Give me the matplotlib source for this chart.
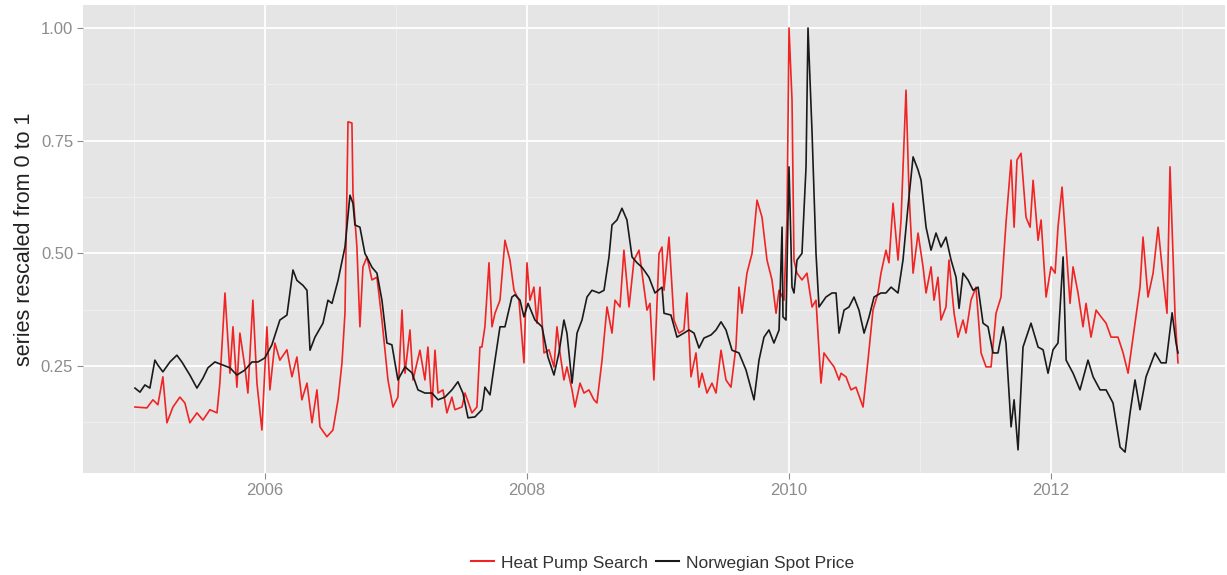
import numpy as np
import matplotlib.pyplot as plt
from matplotlib.lines import Line2D

plt.rcParams['font.family'] = ['Liberation Sans', 'DejaVu Sans']

# Norwegian spot price, rescaled (decimal year, value)
spot_t = [2005.008, 2005.046, 2005.084, 2005.122, 2005.160, 2005.183, 2005.221, 2005.275, 2005.328, 2005.366,
          2005.427, 2005.481, 2005.527, 2005.565, 2005.618, 2005.679, 2005.733, 2005.786, 2005.847, 2005.901,
          2005.947, 2006.000, 2006.053, 2006.114, 2006.168, 2006.214, 2006.244, 2006.290, 2006.321, 2006.344,
          2006.382, 2006.443, 2006.481, 2006.512, 2006.558, 2006.611, 2006.649, 2006.672, 2006.687, 2006.725,
          2006.763, 2006.817, 2006.855, 2006.893, 2006.931, 2006.969, 2007.015, 2007.069, 2007.122, 2007.168,
          2007.221, 2007.275, 2007.321, 2007.374, 2007.427, 2007.473, 2007.511, 2007.550, 2007.603, 2007.656,
          2007.679, 2007.718, 2007.756, 2007.794, 2007.832, 2007.885, 2007.908, 2007.947, 2007.977, 2008.008,
          2008.061, 2008.115, 2008.160, 2008.206, 2008.244, 2008.282, 2008.305, 2008.344, 2008.382, 2008.420,
          2008.458, 2008.496, 2008.550, 2008.588, 2008.626, 2008.649, 2008.687, 2008.725, 2008.763, 2008.802,
          2008.840, 2008.878, 2008.931, 2008.977, 2009.031, 2009.046, 2009.099, 2009.145, 2009.198, 2009.237,
          2009.275, 2009.313, 2009.351, 2009.405, 2009.443, 2009.481, 2009.519, 2009.565, 2009.618, 2009.672,
          2009.733, 2009.771, 2009.809, 2009.847, 2009.885, 2009.924, 2009.947, 2009.954, 2009.977, 2010.000,
          2010.023, 2010.038, 2010.061, 2010.099, 2010.130, 2010.145, 2010.176, 2010.206, 2010.229, 2010.282,
          2010.328, 2010.359, 2010.382, 2010.420, 2010.458, 2010.496, 2010.534, 2010.573, 2010.611, 2010.649,
          2010.702, 2010.740, 2010.779, 2010.832, 2010.870, 2010.908, 2010.947, 2010.985, 2011.008, 2011.046,
          2011.084, 2011.122, 2011.160, 2011.198, 2011.237, 2011.275, 2011.298, 2011.328, 2011.366, 2011.405,
          2011.443, 2011.481, 2011.519, 2011.557, 2011.595, 2011.634, 2011.656, 2011.679, 2011.695, 2011.718,
          2011.748, 2011.786, 2011.847, 2011.901, 2011.939, 2011.977, 2012.015, 2012.053, 2012.092, 2012.115,
          2012.168, 2012.221, 2012.282, 2012.321, 2012.374, 2012.420, 2012.473, 2012.527, 2012.565, 2012.603,
          2012.641, 2012.679, 2012.725, 2012.794, 2012.840, 2012.878, 2012.924, 2012.954, 2012.969]
spot_v = [0.201, 0.192, 0.208, 0.201, 0.263, 0.252, 0.237, 0.259, 0.274, 0.259,
          0.230, 0.201, 0.223, 0.246, 0.259, 0.252, 0.246, 0.230, 0.241, 0.259,
          0.259, 0.268, 0.297, 0.352, 0.363, 0.463, 0.440, 0.429, 0.418, 0.285,
          0.314, 0.345, 0.396, 0.389, 0.440, 0.514, 0.629, 0.611, 0.563, 0.558,
          0.500, 0.469, 0.456, 0.396, 0.301, 0.297, 0.219, 0.248, 0.235, 0.197,
          0.190, 0.190, 0.175, 0.181, 0.197, 0.215, 0.190, 0.135, 0.137, 0.153,
          0.203, 0.186, 0.263, 0.337, 0.337, 0.403, 0.408, 0.396, 0.359, 0.389,
          0.352, 0.337, 0.270, 0.230, 0.279, 0.352, 0.323, 0.212, 0.323, 0.352,
          0.403, 0.418, 0.412, 0.418, 0.492, 0.563, 0.574, 0.600, 0.574, 0.492,
          0.479, 0.469, 0.447, 0.412, 0.425, 0.367, 0.363, 0.314, 0.323, 0.330,
          0.323, 0.290, 0.312, 0.319, 0.330, 0.348, 0.330, 0.285, 0.279, 0.241,
          0.175, 0.263, 0.314, 0.330, 0.301, 0.330, 0.558, 0.359, 0.352, 0.692,
          0.425, 0.412, 0.485, 0.500, 0.692, 1.000, 0.767, 0.500, 0.381, 0.403,
          0.412, 0.412, 0.323, 0.374, 0.381, 0.403, 0.374, 0.323, 0.359, 0.403,
          0.412, 0.412, 0.425, 0.412, 0.485, 0.603, 0.714, 0.685, 0.662, 0.558,
          0.507, 0.545, 0.514, 0.536, 0.485, 0.447, 0.378, 0.456, 0.441, 0.418,
          0.425, 0.345, 0.337, 0.279, 0.279, 0.337, 0.301, 0.190, 0.115, 0.175,
          0.064, 0.292, 0.345, 0.292, 0.286, 0.234, 0.286, 0.301, 0.492, 0.263,
          0.234, 0.197, 0.263, 0.226, 0.197, 0.197, 0.168, 0.070, 0.059, 0.146,
          0.219, 0.153, 0.226, 0.279, 0.257, 0.257, 0.368, 0.301, 0.279]

# Heat pump search volume, rescaled
search_t = [2005.008, 2005.099, 2005.145, 2005.183, 2005.221, 2005.252, 2005.298, 2005.351, 2005.389, 2005.427,
            2005.481, 2005.527, 2005.580, 2005.634, 2005.656, 2005.695, 2005.733, 2005.756, 2005.786, 2005.809,
            2005.847, 2005.870, 2005.908, 2005.939, 2005.977, 2006.015, 2006.038, 2006.076, 2006.114, 2006.168,
            2006.206, 2006.244, 2006.282, 2006.321, 2006.359, 2006.397, 2006.420, 2006.473, 2006.519, 2006.558,
            2006.588, 2006.611, 2006.634, 2006.664, 2006.672, 2006.702, 2006.725, 2006.748, 2006.779, 2006.817,
            2006.855, 2006.893, 2006.916, 2006.939, 2006.977, 2007.015, 2007.046, 2007.069, 2007.107, 2007.130,
            2007.183, 2007.221, 2007.244, 2007.275, 2007.298, 2007.321, 2007.359, 2007.389, 2007.427, 2007.450,
            2007.504, 2007.527, 2007.580, 2007.618, 2007.641, 2007.656, 2007.679, 2007.710, 2007.733, 2007.756,
            2007.794, 2007.832, 2007.870, 2007.901, 2007.939, 2007.977, 2008.000, 2008.023, 2008.053, 2008.076,
            2008.099, 2008.130, 2008.168, 2008.206, 2008.229, 2008.252, 2008.282, 2008.305, 2008.344, 2008.366,
            2008.405, 2008.435, 2008.473, 2008.511, 2008.534, 2008.573, 2008.611, 2008.649, 2008.672, 2008.710,
            2008.740, 2008.779, 2008.817, 2008.855, 2008.893, 2008.916, 2008.939, 2008.969, 2009.008, 2009.031,
            2009.046, 2009.084, 2009.122, 2009.160, 2009.198, 2009.221, 2009.252, 2009.290, 2009.313, 2009.336,
            2009.374, 2009.412, 2009.443, 2009.481, 2009.519, 2009.557, 2009.595, 2009.618, 2009.641, 2009.679,
            2009.718, 2009.756, 2009.794, 2009.832, 2009.870, 2009.901, 2009.924, 2009.962, 2009.985, 2010.000,
            2010.023, 2010.038, 2010.061, 2010.099, 2010.137, 2010.176, 2010.206, 2010.244, 2010.267, 2010.305,
            2010.344, 2010.382, 2010.397, 2010.435, 2010.473, 2010.511, 2010.565, 2010.603, 2010.641, 2010.679,
            2010.702, 2010.740, 2010.763, 2010.794, 2010.832, 2010.855, 2010.893, 2010.916, 2010.947, 2010.985,
            2011.023, 2011.046, 2011.084, 2011.107, 2011.137, 2011.160, 2011.198, 2011.221, 2011.260, 2011.290,
            2011.328, 2011.351, 2011.389, 2011.427, 2011.466, 2011.504, 2011.542, 2011.580, 2011.618, 2011.656,
            2011.695, 2011.718, 2011.740, 2011.771, 2011.809, 2011.840, 2011.863, 2011.901, 2011.924, 2011.962,
            2012.000, 2012.031, 2012.053, 2012.084, 2012.115, 2012.145, 2012.168, 2012.206, 2012.244, 2012.267,
            2012.305, 2012.344, 2012.382, 2012.420, 2012.458, 2012.511, 2012.550, 2012.588, 2012.626, 2012.679,
            2012.702, 2012.740, 2012.779, 2012.817, 2012.855, 2012.885, 2012.908, 2012.947, 2012.969]
search_v = [0.159, 0.157, 0.175, 0.164, 0.226, 0.124, 0.159, 0.181, 0.168, 0.124,
            0.146, 0.130, 0.153, 0.146, 0.212, 0.412, 0.234, 0.337, 0.203, 0.323,
            0.248, 0.190, 0.396, 0.212, 0.108, 0.337, 0.197, 0.301, 0.263, 0.286,
            0.226, 0.270, 0.175, 0.212, 0.124, 0.197, 0.115, 0.093, 0.108, 0.175,
            0.257, 0.368, 0.792, 0.789, 0.634, 0.514, 0.337, 0.470, 0.492, 0.441,
            0.447, 0.352, 0.285, 0.219, 0.159, 0.181, 0.374, 0.234, 0.330, 0.219,
            0.285, 0.219, 0.292, 0.159, 0.285, 0.190, 0.197, 0.146, 0.181, 0.153,
            0.159, 0.190, 0.146, 0.159, 0.292, 0.292, 0.337, 0.479, 0.337, 0.367,
            0.396, 0.529, 0.485, 0.418, 0.396, 0.257, 0.479, 0.396, 0.425, 0.345,
            0.425, 0.279, 0.286, 0.248, 0.337, 0.279, 0.219, 0.248, 0.197, 0.159,
            0.212, 0.190, 0.197, 0.175, 0.168, 0.263, 0.381, 0.323, 0.396, 0.381,
            0.507, 0.381, 0.485, 0.507, 0.425, 0.374, 0.389, 0.219, 0.500, 0.514,
            0.418, 0.536, 0.352, 0.323, 0.330, 0.412, 0.226, 0.279, 0.203, 0.234,
            0.190, 0.212, 0.190, 0.285, 0.219, 0.203, 0.292, 0.425, 0.367, 0.456,
            0.500, 0.618, 0.580, 0.485, 0.441, 0.367, 0.418, 0.396, 0.580, 1.000,
            0.840, 0.485, 0.456, 0.441, 0.456, 0.381, 0.396, 0.212, 0.279, 0.263,
            0.248, 0.219, 0.234, 0.226, 0.197, 0.203, 0.159, 0.263, 0.374, 0.412,
            0.456, 0.507, 0.479, 0.611, 0.485, 0.574, 0.862, 0.634, 0.456, 0.545,
            0.470, 0.412, 0.470, 0.396, 0.447, 0.352, 0.381, 0.485, 0.367, 0.314,
            0.352, 0.323, 0.396, 0.425, 0.279, 0.248, 0.248, 0.367, 0.403, 0.567,
            0.707, 0.558, 0.707, 0.722, 0.580, 0.558, 0.662, 0.529, 0.574, 0.403,
            0.470, 0.456, 0.558, 0.647, 0.514, 0.389, 0.470, 0.412, 0.337, 0.389,
            0.314, 0.374, 0.359, 0.345, 0.314, 0.314, 0.279, 0.234, 0.314, 0.425,
            0.536, 0.403, 0.456, 0.558, 0.447, 0.367, 0.692, 0.359, 0.257]

year_ticks = [2006, 2008, 2010, 2012]
year_minor = [2005, 2007, 2009, 2011, 2013]
y_ticks = [0.25, 0.50, 0.75, 1.00]
y_minor = [0.125, 0.375, 0.625, 0.875]

fig = plt.figure(figsize=(12.27, 5.75), dpi=100)
ax = fig.add_axes([0.0676, 0.1774, 0.9308, 0.8139])
ax.set_facecolor('#E5E5E5')
for s in ax.spines.values():
    s.set_visible(False)

ax.set_xlim(2004.611, 2013.328)
ax.set_ylim(0.0126, 1.051)
ax.set_xticks(year_ticks)
ax.set_xticklabels([str(y) for y in year_ticks])
ax.set_xticks(year_minor, minor=True)
ax.set_yticks(y_ticks)
ax.set_yticklabels(['%.2f' % v for v in y_ticks])
ax.set_yticks(y_minor, minor=True)
ax.grid(which='major', color='white', linewidth=1.3)
ax.grid(which='minor', color='#F0F0F0', linewidth=0.6)
ax.set_axisbelow(True)
ax.tick_params(which='major', length=4, width=0.8, color='#8C8C8C', labelcolor='#8C8C8C',
               labelsize=12, pad=3)
ax.tick_params(which='minor', length=0)

ax.plot(search_t, search_v, color='#F02424', linewidth=1.2)
ax.plot(spot_t, spot_v, color='#1A1A1A', linewidth=1.2)

ax.set_ylabel('series rescaled from 0 to 1', fontsize=15.5, color='#222222', labelpad=4)

handles = [Line2D([], [], color='#F02424', lw=1.5), Line2D([], [], color='#1A1A1A', lw=1.5)]
fig.legend(handles, ['Heat Pump Search', 'Norwegian Spot Price'], loc='center',
           bbox_to_anchor=(0.54, 0.021), ncol=2, frameon=False, fontsize=12.5,
           handlelength=1.3, handletextpad=0.4, columnspacing=0.5, labelcolor='#333333')

fig.savefig('out.png', dpi=100)
